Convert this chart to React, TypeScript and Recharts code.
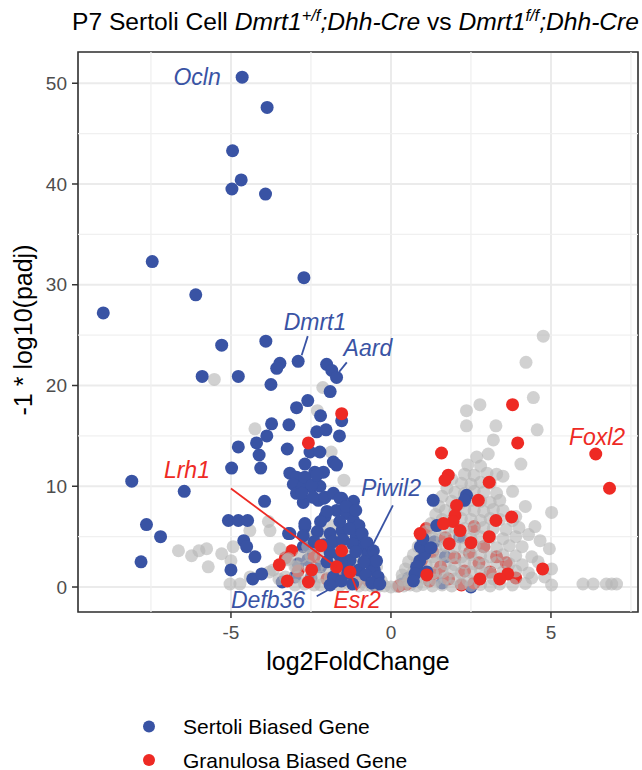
import React from 'react'
import {
  ScatterChart, Scatter, XAxis, YAxis, CartesianGrid, ReferenceLine, ReferenceArea,
} from 'recharts'

/* ---------- data (log2FoldChange, -log10 padj) ---------- */

const X_DOMAIN: [number, number] = [-9.78, 7.72]
const Y_DOMAIN: [number, number] = [-2.48, 53.1]
const X_TICKS = [-5, 0, 5]
const Y_TICKS = [0, 10, 20, 30, 40, 50]
const X_MINOR = [-7.5, -2.5, 2.5, 7.5]
const Y_MINOR = [5, 15, 25, 35, 45]

// Sertoli biased genes drawn on top
const sertoliGenes: [number, number][] = [
  [-4.65, 50.6], [-3.87, 47.6], [-4.95, 43.3], [-4.68, 40.4], [-4.97, 39.5], [-3.92, 39.0],
  [-7.46, 32.3], [-2.72, 30.7], [-6.1, 29.0], [-8.99, 27.2],
  [-5.29, 24.0], [-3.91, 24.4], [-2.9, 22.4], [-3.47, 22.2], [-3.57, 21.7], [-2.01, 22.1],
  [-1.85, 21.5], [-1.7, 20.8], [-5.9, 20.9], [-4.77, 20.9], [-3.75, 20.1], [-1.9, 19.4],
  [-2.6, 18.5], [-2.95, 17.8], [-1.54, 16.5], [-2.2, 17.0], [-3.73, 16.2], [-3.19, 16.1],
  [-2.32, 15.4], [-2.03, 15.6], [-3.88, 15.0], [-1.61, 15.0], [-4.2, 14.3], [-4.77, 13.9],
  [-3.24, 13.7], [-2.53, 13.4], [-2.22, 13.4], [-4.12, 13.1], [-1.8, 12.4], [-1.7, 12.1],
  [-2.69, 12.2], [-4.07, 11.8], [-4.98, 11.8], [-3.16, 11.3], [-2.95, 10.9], [-2.38, 11.4],
  [-2.11, 11.4], [-8.1, 10.5], [-6.46, 9.5], [-3.05, 10.2], [-2.74, 10.0], [-2.48, 9.9],
  [-2.22, 10.0], [-2.95, 9.3], [-2.74, 8.4], [-2.27, 8.6], [-2.11, 8.8], [-3.95, 8.5],
  [-1.54, 8.8], [-1.17, 8.5], [-5.08, 6.6], [-4.77, 6.6], [-4.48, 6.6], [-7.64, 6.2],
  [-7.2, 5.0], [-7.81, 2.5], [-4.6, 4.6], [-4.51, 4.0], [-4.25, 3.0], [-5.0, 1.7],
  [-4.32, 0.8], [-4.04, 1.3], [-3.2, 5.3], [-2.69, 6.0], [-2.74, 5.1], [-1.8, 0.5],
  [-2.69, 10.9], [-2.48, 10.1], [-2.32, 11.1], [-2.79, 9.3], [-2.43, 8.9], [-2.06, 8.9],
  [-1.8, 9.3], [-1.59, 8.8], [-2.69, 6.3], [-2.06, 7.0], [-1.7, 7.6], [-1.38, 7.3],
  [-1.17, 6.6], [-1.9, 5.3], [-1.53, 5.6], [-1.09, 5.0], [-0.94, 4.0], [-3.16, 5.3],
  [-0.73, 3.0], [-0.63, 2.2], [-0.52, 1.7], [-1.28, 2.65], [-1.0, 1.7], [-1.8, 1.0],
  [-1.9, 0.2], [-0.72, 3.3], [-2.0, 7.5], [-1.4, 8.0], [-1.1, 7.6], [-2.2, 6.5],
  [-1.6, 6.5], [-1.0, 6.1], [-2.3, 5.5], [-1.3, 5.8], [-0.9, 5.3], [-2.4, 4.5],
  [-2.1, 4.2], [-1.8, 4.5], [-1.5, 4.7], [-1.2, 4.3], [-0.75, 4.4], [-1.9, 3.4],
  [-1.6, 3.1], [-1.1, 3.5], [-0.55, 3.6], [-2.0, 2.5], [-1.55, 2.3], [-0.85, 2.5],
  [-0.45, 2.6], [-1.35, 1.4], [-0.8, 1.2], [-0.4, 1.0], [-1.55, 0.6], [-1.2, 0.3],
  [-0.6, 0.4], [-0.35, 0.3],
  [1.32, 8.6], [2.36, 9.1], [2.3, 8.6], [1.43, 6.1], [0.9, 2.6], [1.06, 3.3], [0.8, 2.0],
  [1.12, 1.5], [0.75, 1.3], [0.92, 4.0], [1.0, 4.8], [0.7, 0.6], [1.25, 3.9],
]

// Sertoli biased genes hidden under the grey cloud
const sertoliFaint: [number, number][] = [
  [-2.74, 4.0], [-2.43, 3.3], [-3.0, 1.0], [-2.6, 2.7], [-2.2, 2.0], [-1.7, 1.8],
  [-1.4, 0.9], [-2.5, 0.9], [-1.0, 0.8], [-0.5, 0.15], [2.5, 0.0], [0.35, 0.3],
  [0.55, 0.9], [1.6, 0.4], [-2.9, 2.3], [-3.4, 0.5], [-1.3, 2.0], [1.35, 4.5],
  [1.7, 3.0], [2.15, 5.0],
]

const granulosaGenes: [number, number][] = [
  [-1.54, 17.2], [-2.58, 14.3], [-2.19, 4.1], [-1.54, 3.6], [-3.49, 2.2], [-3.24, 0.6],
  [-2.58, 0.5], [-1.7, 2.0], [-1.28, 1.5], [-2.48, 1.7],
  [3.8, 18.1], [3.96, 14.3], [1.58, 13.3], [1.79, 11.1], [1.69, 10.6], [3.07, 10.4],
  [2.73, 8.6], [2.05, 8.1], [2.0, 7.1], [1.94, 6.5], [1.64, 6.3], [2.16, 5.6],
  [3.28, 6.6], [3.77, 6.95], [3.07, 5.0], [2.5, 4.4], [1.82, 4.3], [4.74, 1.8],
  [3.65, 1.3], [3.4, 0.8], [1.12, 1.2], [2.78, 0.8], [0.91, 5.3],
  [6.4, 13.2], [6.83, 9.8],
]

const granulosaFaint: [number, number][] = [
  [0.95, 2.6], [1.2, 0.6], [1.3, 3.5], [1.55, 2.0], [1.7, 4.9], [1.8, 0.8], [2.0, 2.9],
  [2.3, 1.6], [2.45, 3.4], [2.6, 0.4], [2.75, 2.4], [2.9, 4.0], [3.1, 1.5], [3.3, 3.0],
  [1.1, 5.8], [2.2, 0.2], [0.5, 0.3], [0.25, 0.1], [1.4, 1.4], [-2.9, 1.6], [-2.4, 3.0],
  [-3.1, 3.6], [-2.0, 0.8], [-1.1, 0.4], [-0.7, 0.6], [-3.3, 2.9], [-1.6, 1.2],
  [2.6, 6.0], [3.6, 2.4], [3.9, 0.9],
]

// all other genes (grey)
const otherGenes: [number, number][] = [
  [-2.2, 0.2], [-1.9, 0.3], [-1.6, 0.15], [-1.3, 0.25], [-1.0, 0.1], [-0.8, 0.2], [-0.6, 0.1],
  [-0.4, 0.05], [-0.2, 0.1], [0, 0], [0.2, 0.05], [0.4, 0.1], [0.6, 0.2], [0.8, 0.1],
  [1.0, 0.25], [1.3, 0.1], [1.6, 0.2], [1.9, 0.1], [2.2, 0.3], [2.5, 0.15], [2.8, 0.25],
  [3.1, 0.1], [3.4, 0.3], [3.8, 0.2], [4.2, 0.35],
  [-1.1, 0.8], [-0.7, 0.9], [-0.4, 0.6], [0.35, 0.7], [0.55, 0.6], [0.8, 0.9], [1.1, 0.8],
  [1.4, 0.7], [1.7, 0.9], [2.0, 0.8], [2.4, 0.7], [2.8, 0.9], [3.2, 0.8],
  [0.35, 1.2], [0.45, 1.8], [0.55, 2.5], [0.7, 3.2], [0.85, 4.0], [1.0, 4.8], [1.1, 5.5],
  [1.25, 6.3], [1.4, 7.2], [1.5, 8.0], [1.6, 9.0], [1.75, 9.8], [1.9, 10.7],
  [0.7, 1.5], [1.0, 1.6], [1.3, 1.4], [1.6, 1.5], [1.9, 1.6], [2.2, 1.4], [2.5, 1.5],
  [2.8, 1.6], [3.1, 1.4], [3.5, 1.5], [3.9, 1.6], [4.3, 1.4],
  [0.8, 2.3], [1.1, 2.2], [1.4, 2.4], [1.7, 2.3], [2.0, 2.2], [2.3, 2.4], [2.6, 2.3],
  [2.9, 2.2], [3.3, 2.4], [3.7, 2.3], [4.1, 2.2],
  [1.0, 3.1], [1.3, 3.0], [1.6, 3.2], [1.9, 3.1], [2.2, 3.0], [2.5, 3.2], [2.8, 3.1],
  [3.1, 3.0], [3.5, 3.2], [3.9, 3.1], [4.4, 3.0],
  [1.1, 4.0], [1.4, 3.9], [1.7, 4.1], [2.0, 4.0], [2.3, 3.9], [2.6, 4.1], [2.9, 4.0],
  [3.3, 3.9], [3.7, 4.1], [4.1, 4.0],
  [1.3, 4.9], [1.6, 4.8], [1.9, 5.0], [2.2, 4.9], [2.5, 4.8], [2.8, 5.0], [3.1, 4.9],
  [3.5, 4.8], [3.9, 5.0],
  [1.4, 5.8], [1.7, 5.7], [2.0, 5.9], [2.3, 5.8], [2.6, 5.7], [2.9, 5.9], [3.2, 5.8],
  [3.6, 5.7], [4.0, 5.9],
  [1.6, 6.7], [1.9, 6.6], [2.2, 6.8], [2.5, 6.7], [2.8, 6.6], [3.1, 6.8], [3.4, 6.7], [3.8, 6.6],
  [1.7, 7.6], [2.0, 7.5], [2.3, 7.7], [2.6, 7.6], [2.9, 7.5], [3.2, 7.7], [3.5, 7.6],
  [1.9, 8.5], [2.2, 8.4], [2.5, 8.6], [2.8, 8.5], [3.1, 8.4], [3.4, 8.6],
  [2.0, 9.4], [2.3, 9.3], [2.6, 9.5], [2.9, 9.4], [3.3, 9.3],
  [2.2, 10.3], [2.5, 10.2], [2.8, 10.4], [3.1, 10.3],
  [2.3, 11.2], [2.6, 11.1], [3.0, 11.3], [3.3, 11.2],
  [2.4, 12.1], [2.8, 12.0], [4.06, 12.2],
  [2.68, 12.9], [3.04, 13.2], [3.2, 14.6], [2.36, 16.0], [3.28, 16.0], [2.78, 18.1],
  [2.36, 17.5], [4.57, 15.6], [4.45, 18.8], [4.22, 22.3], [4.76, 24.9], [3.5, 11.0], [3.8, 9.5],
  [5.02, 7.4], [4.66, 4.6], [4.95, 3.8], [5.02, 1.8], [5.02, 0.2], [4.5, 6.0], [4.3, 5.2],
  [4.6, 2.5], [6.0, 0.3], [6.32, 0.3], [6.73, 0.3], [6.9, 0.3], [7.05, 0.3], [4.2, 8.0],
  [3.9, 7.0], [4.4, 0.9], [4.8, 1.0],
  [-6.64, 3.6], [-6.23, 3.1], [-5.76, 3.8], [-5.29, 3.3], [-5.71, 2.0], [-4.93, 4.0],
  [-4.41, 5.6], [-3.83, 6.5], [-3.78, 5.6], [-5.52, 20.6], [-4.25, 15.7], [-2.13, 19.8],
  [-2.3, 17.5], [-1.87, 13.4], [-1.47, 10.6], [-5.03, 0.3], [-4.72, 0.3], [-4.4, 1.0],
  [-3.8, 1.5], [-3.5, 0.8], [-3.2, 2.8], [-3.47, 3.8], [-3.24, 2.7], [-2.95, 2.0],
  [-3.68, 1.7], [-6.0, 3.6], [-5.0, 2.6],
  [-3.0, 0.2], [-2.7, 0.3], [-2.4, 0.2],
  [-3.3, 1.0], [-2.9, 1.0], [-2.5, 1.1], [-2.2, 1.0], [-1.9, 0.9], [-1.6, 1.1], [-1.3, 1.0],
  [-1.0, 1.2], [-0.6, 1.1], [-0.3, 0.6],
  [-3.0, 2.0], [-2.6, 2.1], [-2.3, 2.0], [-2.0, 1.9], [-1.7, 2.1], [-1.4, 2.0], [-1.1, 2.1],
  [-0.8, 1.9], [-0.45, 2.0],
  [-2.8, 3.0], [-2.5, 3.1], [-2.2, 3.0], [-1.9, 2.9], [-1.6, 3.1], [-1.3, 3.0], [-1.0, 3.1],
  [-2.6, 4.0], [-2.3, 4.1], [-2.0, 3.9], [-1.7, 4.0], [-1.4, 4.1],
  [-2.5, 5.0], [-2.1, 5.1], [-1.8, 4.9], [-1.5, 5.0],
  [-2.2, 6.0], [-1.8, 6.1],
]

// gene name annotations (data coordinates)
const sertoliLabels = [
  { name: 'Ocln', x: -6.06, y: 50.6 },
  { name: 'Dmrt1', x: -2.375, y: 26.3 },
  { name: 'Aard', x: -0.72, y: 23.7 },
  { name: 'Piwil2', x: 0.0, y: 9.8 },
  { name: 'Defb36', x: -3.84, y: -1.3 },
]
const granulosaLabels = [
  { name: 'Lrh1', x: -6.375, y: 11.6 },
  { name: 'Esr2', x: -1.06, y: -1.3 },
  { name: 'Foxl2', x: 6.44, y: 14.9 },
]
const sertoliLeaders: [number, number, number, number][] = [
  [-2.6, 24.9, -2.79, 23.0],
  [-1.38, 22.3, -1.62, 21.35],
  [0.06, 8.1, -0.66, 3.6],
  [-2.32, -0.92, -1.8, 0.0],
]
const granulosaLeaders: [number, number, number, number][] = [
  [-5.0, 9.77, -1.7, 1.99],
  [-1.28, 1.46, -1.06, -0.33],
]

/* ---------- style ---------- */

const FONT = '"Liberation Sans", Arial, Helvetica, sans-serif'
const BLUE = '#3953A4'
const RED = '#EE2A24'
const GREY = '#B5B5B5'
const W = 642
const H = 770

const pts = (a: [number, number][]) => a.map(([x, y]) => ({ x, y }))

const dot = (fill: string, opacity = 1) => (p: any) =>
  <circle cx={p.cx} cy={p.cy} r={6.5} fill={fill} fillOpacity={opacity} />

const noDot = () => <g />

const label = (fill: string) => (p: any) => (
  <text x={p.cx} y={p.cy} textAnchor="middle" dominantBaseline="central"
    fontFamily={FONT} fontSize={23} fontStyle="italic" fill={fill}>
    {p.payload.name}
  </text>
)

const TICK = { fill: '#4D4D4D', fontSize: 19, fontFamily: FONT }
const TICK_LINE = { stroke: '#333333', strokeWidth: 1.5 }

// leader line drawn as a 2-point scatter line so it sits above the points
const leader = (seg: [number, number, number, number], color: string, key: string) => (
  <Scatter key={key} data={[{ x: seg[0], y: seg[1] }, { x: seg[2], y: seg[3] }]}
    line={{ stroke: color, strokeWidth: 1.8 }} shape={noDot} isAnimationActive={false} />
)

export default function App() {
  return (
    <div style={{ position: 'absolute', left: 0, top: 0, width: W, height: H, background: '#fff' }}>
      <ScatterChart width={W} height={H} margin={{ top: 52, right: 4, bottom: 0, left: 0 }}>
        <CartesianGrid stroke="#EBEBEB" strokeWidth={2} />
        {X_MINOR.map(v => <ReferenceLine key={'xm' + v} x={v} stroke="#F0F0F0" strokeWidth={1.3} />)}
        {Y_MINOR.map(v => <ReferenceLine key={'ym' + v} y={v} stroke="#F0F0F0" strokeWidth={1.3} />)}
        <XAxis type="number" dataKey="x" domain={X_DOMAIN} ticks={X_TICKS} allowDataOverflow
          height={158} axisLine={false} tick={TICK} tickLine={TICK_LINE} tickSize={6} tickMargin={8} />
        <YAxis type="number" dataKey="y" domain={Y_DOMAIN} ticks={Y_TICKS} allowDataOverflow
          width={78} axisLine={false} tick={TICK} tickLine={TICK_LINE} tickSize={6} tickMargin={5} />

        <Scatter data={pts(sertoliFaint)} shape={dot(BLUE)} isAnimationActive={false} />
        <Scatter data={pts(granulosaFaint)} shape={dot(RED)} isAnimationActive={false} />
        <Scatter data={pts(otherGenes)} shape={dot(GREY, 0.62)} isAnimationActive={false} />
        <Scatter data={pts(sertoliGenes)} shape={dot(BLUE)} isAnimationActive={false} />
        <Scatter data={pts(granulosaGenes)} shape={dot(RED)} isAnimationActive={false} />

        {sertoliLeaders.map((s, i) => leader(s, BLUE, 'sl' + i))}
        {granulosaLeaders.map((s, i) => leader(s, RED, 'gl' + i))}
        <Scatter data={sertoliLabels} shape={label(BLUE)} isAnimationActive={false} />
        <Scatter data={granulosaLabels} shape={label(RED)} isAnimationActive={false} />

        <ReferenceArea x1={X_DOMAIN[0]} x2={X_DOMAIN[1]} y1={Y_DOMAIN[0]} y2={Y_DOMAIN[1]}
          fill="#ffffff" fillOpacity={0} stroke="#333333" strokeWidth={1.6} ifOverflow="visible" />
      </ScatterChart>

      <svg width={W} height={H} style={{ position: 'absolute', left: 0, top: 0, pointerEvents: 'none' }}>
        <text x={72} y={30} fontFamily={FONT} fontSize={24.6} fill="#000">
          P7 Sertoli Cell{' '}
          <tspan fontStyle="italic">Dmrt1</tspan>
          <tspan fontSize={16.5} dy={-9} fontStyle="italic">+/f</tspan>
          <tspan fontStyle="italic" dy={9}>;Dhh-Cre</tspan>
          <tspan> vs </tspan>
          <tspan fontStyle="italic">Dmrt1</tspan>
          <tspan fontSize={16.5} dy={-9} fontStyle="italic">f/f</tspan>
          <tspan fontStyle="italic" dy={9}>;Dhh-Cre</tspan>
        </text>
        <text x={358} y={670} textAnchor="middle" fontFamily={FONT} fontSize={25} fill="#000">
          log2FoldChange
        </text>
        <text x={32} y={330} textAnchor="middle" fontFamily={FONT} fontSize={25} fill="#000"
          transform="rotate(-90, 32, 330)">
          -1 * log10(padj)
        </text>
        <circle cx={149} cy={726.5} r={6} fill={BLUE} />
        <text x={183} y={726.5} dominantBaseline="central" fontFamily={FONT} fontSize={21} fill="#000">
          Sertoli Biased Gene
        </text>
        <circle cx={149} cy={760} r={6} fill={RED} />
        <text x={183} y={760} dominantBaseline="central" fontFamily={FONT} fontSize={21} fill="#000">
          Granulosa Biased Gene
        </text>
      </svg>
    </div>
  )
}
